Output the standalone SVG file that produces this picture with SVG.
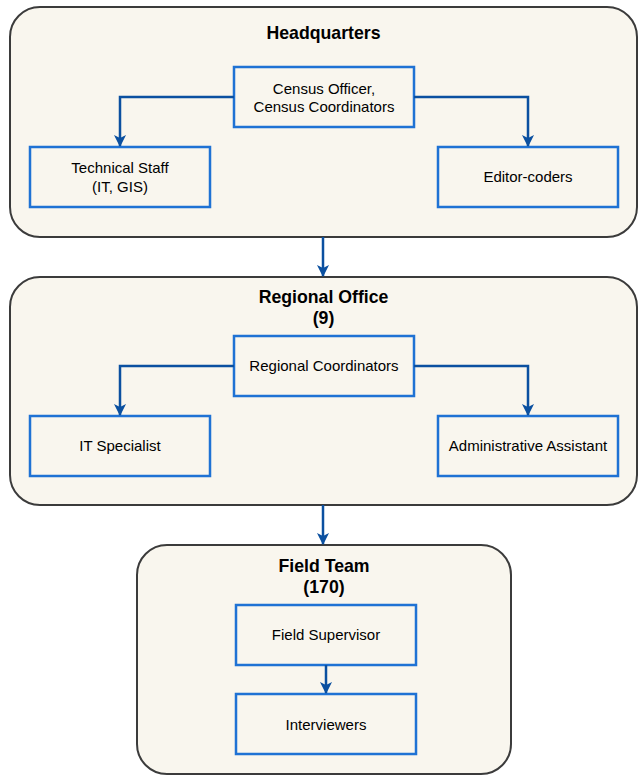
<svg xmlns="http://www.w3.org/2000/svg" width="643" height="782" viewBox="0 0 643 782">
<style>
.cont{fill:#f9f6ee;stroke:#3b3b3b;stroke-width:2}
.box{fill:#f9f6ee;stroke:#1f72d4;stroke-width:2.5}
.title{font-family:"Liberation Sans",Arial,sans-serif;font-weight:bold;font-size:17.7px;fill:#000;text-anchor:middle}
.lbl{font-family:"Liberation Sans",Arial,sans-serif;font-size:15px;fill:#000;text-anchor:middle}
.conn{fill:none;stroke:#0b50a0;stroke-width:2.5}
</style>
<defs>
<marker id="arr" viewBox="0 0 12 12" refX="11" refY="6" markerWidth="12" markerHeight="12" markerUnits="userSpaceOnUse" orient="auto">
<path d="M0,0 L12,6 L0,12 L3,6 Z" fill="#0b50a0"/>
</marker>
</defs>
<rect width="643" height="782" fill="#ffffff"/>
<g id="hq">
<rect class="cont" x="10" y="7" width="627" height="230" rx="30" ry="30"/>
<text class="title" x="323.5" y="39">Headquarters</text>
</g>
<g id="ro">
<rect class="cont" x="10" y="277" width="627" height="228" rx="30" ry="30"/>
<text class="title" x="323.5" y="303">Regional Office</text>
<text class="title" x="323.5" y="324">(9)</text>
</g>
<g id="ft">
<rect class="cont" x="137" y="545" width="374" height="229" rx="30" ry="30"/>
<text class="title" x="324" y="572">Field Team</text>
<text class="title" x="324" y="593">(170)</text>
</g>
<g id="census">
<rect class="box" x="234" y="67" width="180" height="60"/>
<text class="lbl" x="324" y="94">Census Officer,</text>
<text class="lbl" x="324" y="112">Census Coordinators</text>
</g>
<g id="tech">
<rect class="box" x="30" y="147" width="180" height="60"/>
<text class="lbl" x="120" y="173">Technical Staff</text>
<text class="lbl" x="120" y="192">(IT, GIS)</text>
</g>
<g id="editor">
<rect class="box" x="438" y="147" width="180" height="60"/>
<text class="lbl" x="528" y="182">Editor-coders</text>
</g>
<g id="regcoord">
<rect class="box" x="234" y="336" width="180" height="60"/>
<text class="lbl" x="324" y="371">Regional Coordinators</text>
</g>
<g id="itspec">
<rect class="box" x="30" y="416" width="180" height="60"/>
<text class="lbl" x="120" y="451">IT Specialist</text>
</g>
<g id="admin">
<rect class="box" x="438" y="416" width="180" height="60"/>
<text class="lbl" x="528" y="451">Administrative Assistant</text>
</g>
<g id="fieldsup">
<rect class="box" x="236" y="605" width="180" height="60"/>
<text class="lbl" x="326" y="640">Field Supervisor</text>
</g>
<g id="interviewers">
<rect class="box" x="236" y="694" width="180" height="60"/>
<text class="lbl" x="326" y="730">Interviewers</text>
</g>
<g id="connectors">
<path class="conn" d="M234,97 H120 V146" marker-end="url(#arr)"/>
<path class="conn" d="M414,97 H528 V146" marker-end="url(#arr)"/>
<path class="conn" d="M323,237 V276" marker-end="url(#arr)"/>
<path class="conn" d="M234,366 H120 V415" marker-end="url(#arr)"/>
<path class="conn" d="M414,366 H528 V415" marker-end="url(#arr)"/>
<path class="conn" d="M323,505 V544" marker-end="url(#arr)"/>
<path class="conn" d="M326,665 V693" marker-end="url(#arr)"/>
</g>
</svg>
